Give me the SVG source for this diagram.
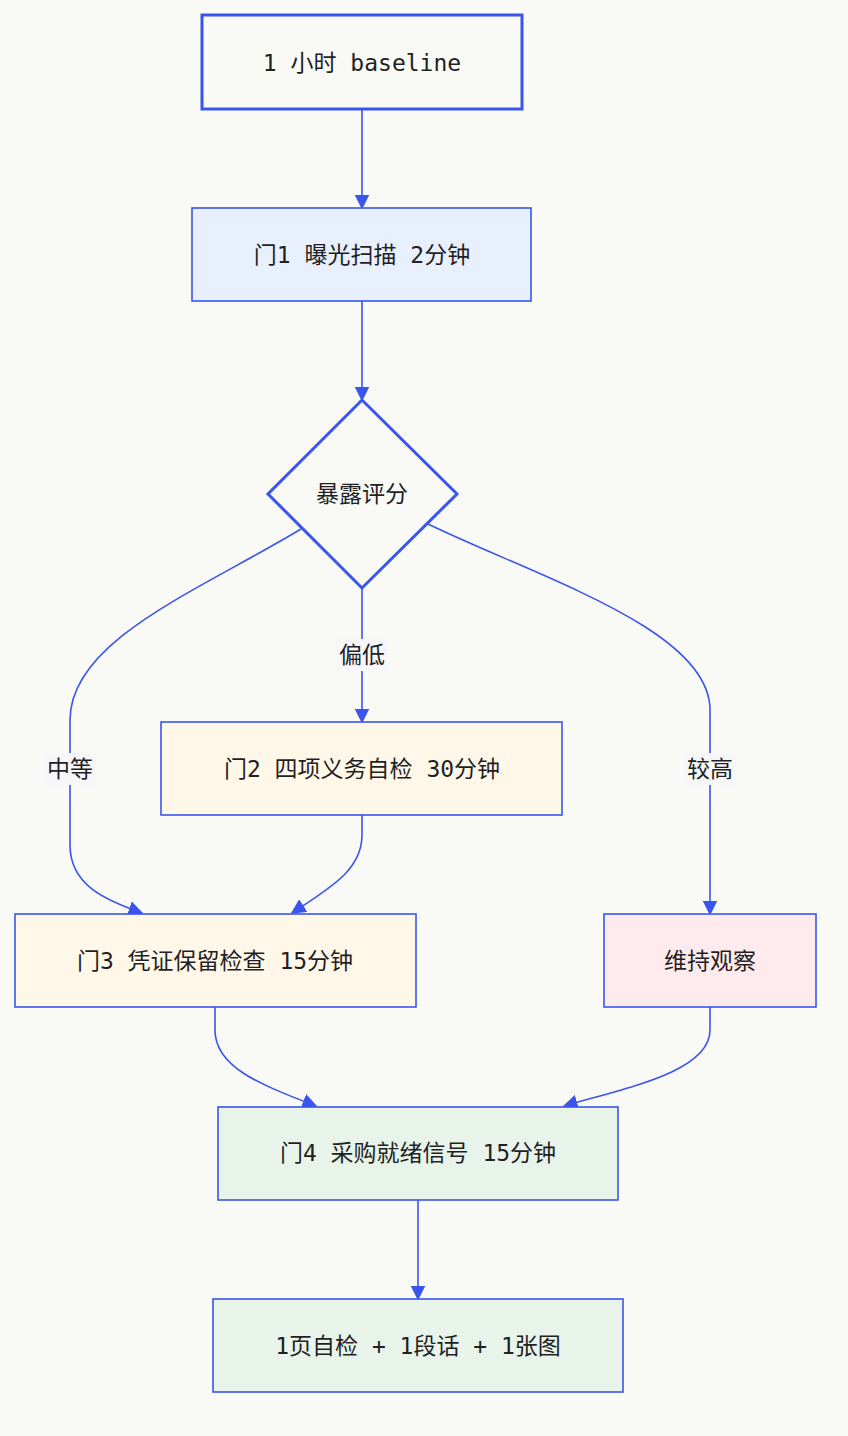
<svg xmlns="http://www.w3.org/2000/svg" width="848" height="1436" viewBox="0 0 848 1436">
<defs>
<marker id="arrow" markerUnits="userSpaceOnUse" markerWidth="15" markerHeight="15" viewBox="0 0 10 10" refX="9" refY="5" orient="auto">
<path d="M0,0 L10,5 L0,10 z" fill="#3a55ee"/>
</marker>
<style>
.node rect, .node polygon { stroke: #3a55ee; stroke-width: 1.6; }
.thick { stroke-width: 3 !important; }
.lbl { font-family: "DejaVu Sans Mono", "Noto Sans CJK SC", monospace; font-size: 23px; fill: #1f1f24; text-anchor: middle; dominant-baseline: central; }
.elbl { font-family: "DejaVu Sans Mono", "Noto Sans CJK SC", monospace; font-size: 23px; fill: #1f1f24; text-anchor: middle; dominant-baseline: central; }
.edge { fill: none; stroke: #3a55ee; stroke-width: 1.6; marker-end: url(#arrow); }
.lblbg { fill: #f7f7f9; }
</style>
</defs>
<rect x="0" y="0" width="848" height="1436" fill="#f9f9f6"/>

<g id="connectors">
<path class="edge" d="M362,109 L362,208"/>
<path class="edge" d="M362,301 L362,400"/>
<path class="edge" d="M362,588 L362,722"/>
<path class="edge" d="M301,529 C200,590 70,640 70,720 L70,845 C70,885 105,900 142,913"/>
<path class="edge" d="M428,524 C540,578 710,630 710,710 L710,914"/>
<path class="edge" d="M362,815 L362,835 C362,870 330,888 292,913"/>
<path class="edge" d="M215,1007 L215,1030 C215,1068 262,1085 316,1106"/>
<path class="edge" d="M710,1007 L710,1030 C710,1072 625,1088 564,1106"/>
<path class="edge" d="M418,1200 L418,1299"/>
<g id="edge-labels">
<rect class="lblbg" x="336" y="639" width="52" height="32"/>
<text class="elbl" x="362" y="655">偏低</text>
<rect class="lblbg" x="44" y="753" width="52" height="32"/>
<text class="elbl" x="70" y="769">中等</text>
<rect class="lblbg" x="684" y="753" width="52" height="32"/>
<text class="elbl" x="710" y="769">较高</text>
</g>
</g>

<g id="start" class="node">
<rect class="thick" x="202" y="15" width="320" height="94" fill="#f9f9f6"/>
<text class="lbl" x="362" y="63">1 小时 baseline</text>
</g>
<g id="gate1" class="node">
<rect x="192" y="208" width="339" height="93" fill="#e8effd"/>
<text class="lbl" x="362" y="255">门1 曝光扫描 2分钟</text>
</g>
<g id="score" class="node">
<polygon class="thick" points="362,400 457,494 362,588 268,494" fill="#f9f9f6"/>
<text class="lbl" x="362" y="494">暴露评分</text>
</g>
<g id="gate2" class="node">
<rect x="161" y="722" width="401" height="93" fill="#fff8e9"/>
<text class="lbl" x="362" y="769">门2 四项义务自检 30分钟</text>
</g>
<g id="gate3" class="node">
<rect x="15" y="914" width="401" height="93" fill="#fff8e9"/>
<text class="lbl" x="215" y="961">门3 凭证保留检查 15分钟</text>
</g>
<g id="watch" class="node">
<rect x="604" y="914" width="212" height="93" fill="#ffeaee"/>
<text class="lbl" x="710" y="961">维持观察</text>
</g>
<g id="gate4" class="node">
<rect x="218" y="1107" width="400" height="93" fill="#e8f4ea"/>
<text class="lbl" x="418" y="1153">门4 采购就绪信号 15分钟</text>
</g>
<g id="output" class="node">
<rect x="213" y="1299" width="410" height="93" fill="#e8f4ea"/>
<text class="lbl" x="418" y="1346">1页自检 + 1段话 + 1张图</text>
</g>
</svg>
